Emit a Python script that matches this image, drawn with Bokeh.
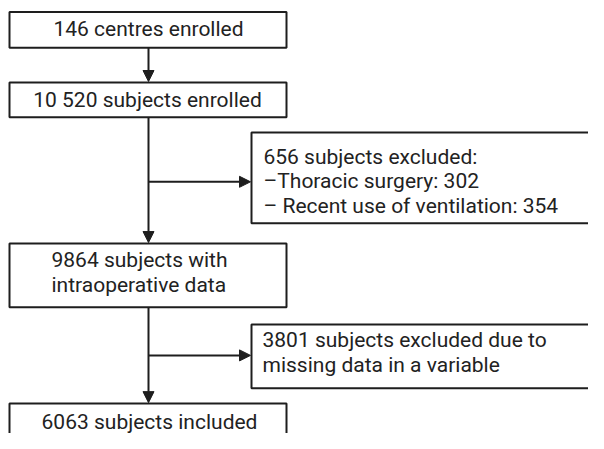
from bokeh.plotting import figure
from bokeh.models import Range1d, Arrow, NormalHead
from bokeh.core.properties import value
from bokeh.embed import file_html
from bokeh.resources import INLINE

# ---- data (counts shown in the flow diagram) ----
centres_enrolled = 146
subjects_enrolled = "10 520"
excluded_total = 656
excluded_thoracic = 302
excluded_ventilation = 354
with_intraop = 9864
excluded_missing = 3801
included = 6063

box_lines = [
    [f"{centres_enrolled} centres enrolled"],
    [f"{subjects_enrolled} subjects enrolled"],
    [f"{excluded_total} subjects excluded:",
     f"\u2013Thoracic surgery: {excluded_thoracic}",
     f"\u2013 Recent use of ventilation: {excluded_ventilation}"],
    [f"{with_intraop} subjects with", "intraoperative data"],
    [f"{excluded_missing} subjects excluded due to", "missing data in a variable"],
    [f"{included} subjects included"],
]

# ---- layout (reference pixel coordinates) ----
box_left = [9, 9, 251, 9, 251, 9]
box_right = [286, 286, 640, 286, 640, 286]
box_top = [12, 85, 137, 252, 336, 418]
box_bottom = [49, 121, 231, 318, 402, 480]
text_align = ["center", "center", "left", "left", "left", "center"]
text_x = [148, 147, 263, 51, 262, 149]
text_y0 = [30, 103, 162, 269, 352, 437]
line_step = 25.5

W, H = 588, 433
p = figure(width=W, height=H, output_backend="svg", toolbar_location=None,
           x_range=Range1d(0, W), y_range=Range1d(449, 0),
           min_border=0)
p.axis.visible = False
p.grid.visible = False
p.outline_line_color = None
p.background_fill_color = "white"
p.border_fill_color = "white"

ink = "#1e1e1e"
p.quad(left=box_left, right=box_right, top=box_top, bottom=box_bottom,
       fill_color="white", line_color=ink, line_width=2)

for i, lines in enumerate(box_lines):
    xs = [text_x[i]] * len(lines)
    ys = [text_y0[i] + k * line_step for k in range(len(lines))]
    p.text(x=xs, y=ys, text=lines, text_align=text_align[i],
           text_baseline="middle", text_font=value("Roboto"),
           text_font_size="21px", text_color="#222222")

# connectors
def arrow(x0, y0, x1, y1):
    p.add_layout(Arrow(end=NormalHead(size=11, fill_color=ink, line_color=ink, line_width=1),
                       x_start=x0, y_start=y0, x_end=x1, y_end=y1,
                       line_color=ink, line_width=2))

arrow(148, 49, 148, 84)
arrow(148, 121, 148, 251)
arrow(148, 188, 250, 188)
arrow(148, 318, 148, 417)
arrow(148, 368, 250, 368)

html = file_html(p, INLINE)
open("out.html", "w").write(html)
